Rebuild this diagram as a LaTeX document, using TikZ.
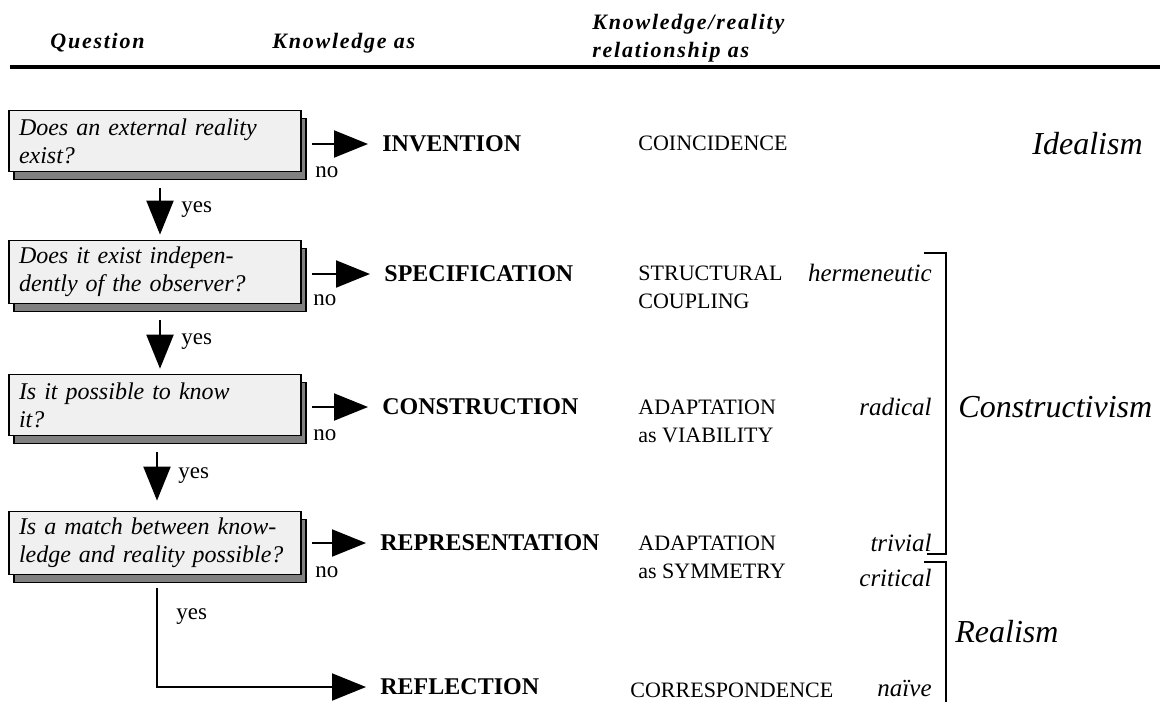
\documentclass[tikz,border=0pt]{standalone}
\usepackage{fontspec}
\setmainfont{Liberation Serif}
\newfontfamily\headfont[LetterSpace=8]{Liberation Serif}
\usetikzlibrary{arrows.meta,shadows}
\tikzset{
  question/.style={draw, line width=.8pt, fill=gray!12, text width=136pt,
    inner xsep=5pt, minimum height=30.5pt, align=left,
    font=\itshape\fontsize{12}{14}\selectfont,
    general shadow={fill=black!50, draw=black, line width=.8pt,
      shadow xshift=2.5pt, shadow yshift=-4pt}},
  head/.style={anchor=base west, inner sep=0pt, font=\headfont\bfseries\itshape\fontsize{11}{14}\selectfont},
  knows/.style={anchor=west, inner sep=0pt, font=\bfseries\fontsize{12}{14}\selectfont},
  relation/.style={anchor=west, inner sep=0pt, align=left, font=\fontsize{11}{14}\selectfont},
  variant/.style={anchor=east, inner sep=0pt, font=\itshape\fontsize{12.5}{14}\selectfont},
  school/.style={anchor=west, inner sep=0pt, font=\itshape\fontsize{16}{18}\selectfont},
  answer/.style={anchor=west, inner sep=0pt, font=\fontsize{11.5}{14}\selectfont},
  flow/.style={line width=1pt, -{Triangle[length=17pt,width=13.5pt]}}
}
\begin{document}
\begin{tikzpicture}[x=.5pt,y=-.5pt]
\useasboundingbox (0,0) rectangle (1165,702);
% Column heads
\node[head] (hq) at (50,48) {Question};
\node[head] (hk) at (272,48) {Knowledge as};
\node[head, anchor=north west, align=left] (hr) at (592,14) {Knowledge/reality\\relationship as};
\draw[line width=2pt] (10,67) -- (1160,67);
% Questions
\node[question] (q1) at (155,141) {Does an external reality\\exist?};
\node[question] (q2) at (155,272) {Does it exist indepen-\\dently of the observer?};
\node[question] (q3) at (155,405) {Is it possible to know\\it?};
\node[question] (q4) at (155,543) {Is a match between know-\\ledge and reality possible?};
% Knowledge as
\node[knows] (inv) at (382,144) {INVENTION};
\node[knows] (spec) at (384,274) {SPECIFICATION};
\node[knows] (cons) at (382,407) {CONSTRUCTION};
\node[knows] (repr) at (380,543) {REPRESENTATION};
\node[knows] (refl) at (380,687) {REFLECTION};
% Relationship as
\node[relation] (coin) at (638,143) {COINCIDENCE};
\node[relation] (coup) at (638,287) {STRUCTURAL\\COUPLING};
\node[relation] (viab) at (638,421) {ADAPTATION\\as VIABILITY};
\node[relation] (symm) at (638,557) {ADAPTATION\\as SYMMETRY};
\node[relation] (corr) at (630,690) {CORRESPONDENCE};
% Variants and schools
\node[variant] (herm) at (932,273) {hermeneutic};
\node[variant] (rad) at (932,407) {radical};
\node[variant] (triv) at (932,543) {trivial};
\node[variant] (crit) at (932,578) {critical};
\node[variant] (naive) at (932,688) {naïve};
\node[school] (ideal) at (1032,144) {Idealism};
\node[school] (constr) at (958,407) {Constructivism};
\node[school] (real) at (955,632) {Realism};
\draw[line width=1pt] (924,253) -- (946,253) -- (946,554) -- (927,554);
\draw[line width=1pt] (924,562) -- (946,562) -- (946,702);
% no arrows
\foreach \q/\k in {q1/inv, q2/spec, q3/cons, q4/repr}
  \draw[flow, shorten <=5pt, shorten >=7pt] (\q.east |- \k.west) -- (\k.west);
\node[answer] (no1) at (315,172) {no};
\node[answer] (no2) at (313,300) {no};
\node[answer] (no3) at (313,435) {no};
\node[answer] (no4) at (315,572) {no};
% yes arrows
\draw[flow, shorten <=8pt, shorten >=2.5pt] ([xshift=2.5pt]q1.south) -- ([xshift=2.5pt]q2.north);
\draw[flow, shorten <=8pt, shorten >=2.5pt] ([xshift=2.5pt]q2.south) -- ([xshift=2.5pt]q3.north);
\draw[flow, shorten <=8pt, shorten >=5pt] ([xshift=1pt]q3.south) -- ([xshift=1pt]q4.north);
\draw[flow, shorten <=6.5pt, shorten >=7pt] ([xshift=1pt]q4.south) |- (refl.west);
\node[answer] (yes1) at (181,210) {yes};
\node[answer] (yes2) at (181,342) {yes};
\node[answer] (yes3) at (178,476) {yes};
\node[answer] (yes4) at (176,617) {yes};
\end{tikzpicture}
\end{document}
